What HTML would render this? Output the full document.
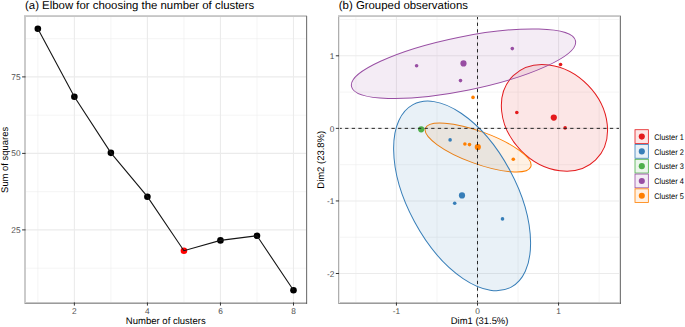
<!DOCTYPE html>
<html><head><meta charset="utf-8"><style>html,body{margin:0;padding:0;background:#fff;overflow:hidden}svg{display:block}</style></head>
<body><svg width="685" height="327" viewBox="0 0 685 327" text-rendering="geometricPrecision"><line x1="37.85" y1="16.0" x2="37.85" y2="303.0" stroke="#EBEBEB" stroke-width="0.55"/>
<line x1="110.89" y1="16.0" x2="110.89" y2="303.0" stroke="#EBEBEB" stroke-width="0.55"/>
<line x1="183.93" y1="16.0" x2="183.93" y2="303.0" stroke="#EBEBEB" stroke-width="0.55"/>
<line x1="256.97" y1="16.0" x2="256.97" y2="303.0" stroke="#EBEBEB" stroke-width="0.55"/>
<line x1="25.0" y1="268.15" x2="306.5" y2="268.15" stroke="#EBEBEB" stroke-width="0.55"/>
<line x1="25.0" y1="191.65" x2="306.5" y2="191.65" stroke="#EBEBEB" stroke-width="0.55"/>
<line x1="25.0" y1="115.15" x2="306.5" y2="115.15" stroke="#EBEBEB" stroke-width="0.55"/>
<line x1="25.0" y1="38.65" x2="306.5" y2="38.65" stroke="#EBEBEB" stroke-width="0.55"/>
<line x1="74.37" y1="16.0" x2="74.37" y2="303.0" stroke="#EBEBEB" stroke-width="1.1"/>
<line x1="147.41" y1="16.0" x2="147.41" y2="303.0" stroke="#EBEBEB" stroke-width="1.1"/>
<line x1="220.45" y1="16.0" x2="220.45" y2="303.0" stroke="#EBEBEB" stroke-width="1.1"/>
<line x1="293.49" y1="16.0" x2="293.49" y2="303.0" stroke="#EBEBEB" stroke-width="1.1"/>
<line x1="25.0" y1="229.90" x2="306.5" y2="229.90" stroke="#EBEBEB" stroke-width="1.1"/>
<line x1="25.0" y1="153.40" x2="306.5" y2="153.40" stroke="#EBEBEB" stroke-width="1.1"/>
<line x1="25.0" y1="76.90" x2="306.5" y2="76.90" stroke="#EBEBEB" stroke-width="1.1"/>
<circle cx="37.85" cy="28.74" r="3.3" fill="#000"/>
<circle cx="74.37" cy="96.7" r="3.3" fill="#000"/>
<circle cx="110.89" cy="152.85" r="3.3" fill="#000"/>
<circle cx="147.41" cy="196.7" r="3.3" fill="#000"/>
<circle cx="183.93" cy="250.7" r="3.3" fill="#FF0000"/>
<circle cx="220.45" cy="240.4" r="3.3" fill="#000"/>
<circle cx="256.97" cy="235.8" r="3.3" fill="#000"/>
<circle cx="293.49" cy="290.3" r="3.3" fill="#000"/>
<polyline fill="none" stroke="#151515" stroke-width="1.1" points="37.85,28.74 74.37,96.7 110.89,152.85 147.41,196.7 183.93,250.7 220.45,240.4 256.97,235.8 293.49,290.3"/>
<rect x="24" y="15" width="2" height="289" fill="#CBCBCB" shape-rendering="crispEdges"/>
<rect x="24" y="15" width="283" height="1" fill="#CECECE" shape-rendering="crispEdges"/>
<rect x="24" y="16" width="283" height="1" fill="#C6C6C6" shape-rendering="crispEdges"/>
<rect x="306" y="16" width="1" height="288" fill="#7A7A7A" shape-rendering="crispEdges"/>
<rect x="307" y="16" width="1" height="288" fill="#E9E9E9" shape-rendering="crispEdges"/>
<rect x="26" y="302" width="281" height="1" fill="#C6C6C6" shape-rendering="crispEdges"/>
<rect x="25" y="303" width="282" height="1" fill="#9B9B9B" shape-rendering="crispEdges"/>
<rect x="306" y="302" width="1" height="2" fill="#6A6A6A" shape-rendering="crispEdges"/>
<line x1="74.37" y1="302.4" x2="74.37" y2="305.6" stroke="#333333" stroke-width="1.0"/>
<text x="74.37" y="313.9" font-family="'Liberation Sans', sans-serif" font-size="8.3" fill="#4D4D4D" text-anchor="middle">2</text>
<line x1="147.41" y1="302.4" x2="147.41" y2="305.6" stroke="#333333" stroke-width="1.0"/>
<text x="147.41" y="313.9" font-family="'Liberation Sans', sans-serif" font-size="8.3" fill="#4D4D4D" text-anchor="middle">4</text>
<line x1="220.45" y1="302.4" x2="220.45" y2="305.6" stroke="#333333" stroke-width="1.0"/>
<text x="220.45" y="313.9" font-family="'Liberation Sans', sans-serif" font-size="8.3" fill="#4D4D4D" text-anchor="middle">6</text>
<line x1="293.49" y1="302.4" x2="293.49" y2="305.6" stroke="#333333" stroke-width="1.0"/>
<text x="293.49" y="313.9" font-family="'Liberation Sans', sans-serif" font-size="8.3" fill="#4D4D4D" text-anchor="middle">8</text>
<line x1="22.1" y1="229.90" x2="25.6" y2="229.90" stroke="#333333" stroke-width="1.0"/>
<text x="20.5" y="232.87" font-family="'Liberation Sans', sans-serif" font-size="8.3" fill="#4D4D4D" text-anchor="end">25</text>
<line x1="22.1" y1="153.40" x2="25.6" y2="153.40" stroke="#333333" stroke-width="1.0"/>
<text x="20.5" y="156.37" font-family="'Liberation Sans', sans-serif" font-size="8.3" fill="#4D4D4D" text-anchor="end">50</text>
<line x1="22.1" y1="76.90" x2="25.6" y2="76.90" stroke="#333333" stroke-width="1.0"/>
<text x="20.5" y="79.87" font-family="'Liberation Sans', sans-serif" font-size="8.3" fill="#4D4D4D" text-anchor="end">75</text>
<text x="165.8" y="323.8" font-family="'Liberation Sans', sans-serif" font-size="9.6" textLength="79.9" lengthAdjust="spacingAndGlyphs" fill="#000" text-anchor="middle">Number of clusters</text>
<text transform="translate(7.7,159.9) rotate(-90)" font-family="'Liberation Sans', sans-serif" font-size="9.6" textLength="66.0" lengthAdjust="spacingAndGlyphs" fill="#000" text-anchor="middle">Sum of squares</text>
<text x="25.0" y="9.05" font-family="'Liberation Sans', sans-serif" font-size="11.4" fill="#000">(a) Elbow for choosing the number of clusters</text>
<line x1="355.89" y1="16.0" x2="355.89" y2="303.0" stroke="#EBEBEB" stroke-width="0.55"/>
<line x1="436.97" y1="16.0" x2="436.97" y2="303.0" stroke="#EBEBEB" stroke-width="0.55"/>
<line x1="518.03" y1="16.0" x2="518.03" y2="303.0" stroke="#EBEBEB" stroke-width="0.55"/>
<line x1="599.11" y1="16.0" x2="599.11" y2="303.0" stroke="#EBEBEB" stroke-width="0.55"/>
<line x1="338.5" y1="19.52" x2="620.5" y2="19.52" stroke="#EBEBEB" stroke-width="0.55"/>
<line x1="338.5" y1="92.09" x2="620.5" y2="92.09" stroke="#EBEBEB" stroke-width="0.55"/>
<line x1="338.5" y1="164.66" x2="620.5" y2="164.66" stroke="#EBEBEB" stroke-width="0.55"/>
<line x1="338.5" y1="237.22" x2="620.5" y2="237.22" stroke="#EBEBEB" stroke-width="0.55"/>
<line x1="396.43" y1="16.0" x2="396.43" y2="303.0" stroke="#EBEBEB" stroke-width="1.1"/>
<line x1="477.50" y1="16.0" x2="477.50" y2="303.0" stroke="#EBEBEB" stroke-width="1.1"/>
<line x1="558.57" y1="16.0" x2="558.57" y2="303.0" stroke="#EBEBEB" stroke-width="1.1"/>
<line x1="338.5" y1="55.80" x2="620.5" y2="55.80" stroke="#EBEBEB" stroke-width="1.1"/>
<line x1="338.5" y1="128.37" x2="620.5" y2="128.37" stroke="#EBEBEB" stroke-width="1.1"/>
<line x1="338.5" y1="200.94" x2="620.5" y2="200.94" stroke="#EBEBEB" stroke-width="1.1"/>
<line x1="338.5" y1="273.51" x2="620.5" y2="273.51" stroke="#EBEBEB" stroke-width="1.1"/>
<ellipse cx="554.45" cy="117.8" rx="58.9" ry="46.8" transform="rotate(45.6 554.45 117.8)" fill="#E41A1C" fill-opacity="0.11" stroke="#E41A1C" stroke-width="1.0"/>
<ellipse cx="463.5" cy="63.7" rx="114.3" ry="26.8" transform="rotate(-11.5 463.5 63.7)" fill="#984EA3" fill-opacity="0.11" stroke="#984EA3" stroke-width="1.0"/>
<ellipse cx="478.1" cy="147.5" rx="56.1" ry="16.1" transform="rotate(20.1 478.1 147.5)" fill="#FF7F00" fill-opacity="0.11" stroke="#FF7F00" stroke-width="1.0"/>
<ellipse cx="462.1" cy="195.9" rx="103.6" ry="54.2" transform="rotate(61.7 462.1 195.9)" fill="#377EB8" fill-opacity="0.11" stroke="#377EB8" stroke-width="1.0"/>
<circle cx="560.55" cy="64.5" r="1.8" fill="#E41A1C"/>
<circle cx="516.8" cy="112.5" r="1.8" fill="#E41A1C"/>
<circle cx="565.1" cy="127.9" r="1.8" fill="#E41A1C"/>
<circle cx="553.8" cy="117.6" r="3.1" fill="#E41A1C"/>
<circle cx="450.1" cy="139.9" r="1.8" fill="#377EB8"/>
<circle cx="454.7" cy="203.2" r="1.8" fill="#377EB8"/>
<circle cx="502.5" cy="218.9" r="1.8" fill="#377EB8"/>
<circle cx="462" cy="195.4" r="3.1" fill="#377EB8"/>
<circle cx="421.2" cy="129.3" r="3.1" fill="#4DAF4A"/>
<circle cx="416.6" cy="65.7" r="1.8" fill="#984EA3"/>
<circle cx="460.5" cy="80.6" r="1.8" fill="#984EA3"/>
<circle cx="512.3" cy="48.6" r="1.8" fill="#984EA3"/>
<circle cx="463.5" cy="63.4" r="3.1" fill="#984EA3"/>
<circle cx="473" cy="97.4" r="1.8" fill="#FF7F00"/>
<circle cx="464.9" cy="144.0" r="1.8" fill="#FF7F00"/>
<circle cx="469.5" cy="144.6" r="1.8" fill="#FF7F00"/>
<circle cx="513.3" cy="159.3" r="1.8" fill="#FF7F00"/>
<circle cx="477.8" cy="147.0" r="3.1" fill="#FF7F00"/>
<line x1="338.5" y1="128.37" x2="620.5" y2="128.37" stroke="#262626" stroke-width="1.0" stroke-dasharray="3.31 3.31"/>
<line x1="477.50" y1="16.0" x2="477.50" y2="303.0" stroke="#262626" stroke-width="1.0" stroke-dasharray="3.31 3.31"/>
<rect x="338" y="15" width="1" height="289" fill="#AEAEAE" shape-rendering="crispEdges"/>
<rect x="339" y="15" width="1" height="289" fill="#E9E9E9" shape-rendering="crispEdges"/>
<rect x="338" y="15" width="283" height="1" fill="#CECECE" shape-rendering="crispEdges"/>
<rect x="338" y="16" width="283" height="1" fill="#C6C6C6" shape-rendering="crispEdges"/>
<rect x="619" y="17" width="1" height="285" fill="#E2E2E2" shape-rendering="crispEdges"/>
<rect x="620" y="16" width="1" height="288" fill="#7A7A7A" shape-rendering="crispEdges"/>
<rect x="340" y="302" width="280" height="1" fill="#C6C6C6" shape-rendering="crispEdges"/>
<rect x="339" y="303" width="282" height="1" fill="#9B9B9B" shape-rendering="crispEdges"/>
<rect x="620" y="302" width="1" height="2" fill="#6A6A6A" shape-rendering="crispEdges"/>
<line x1="396.43" y1="302.4" x2="396.43" y2="305.6" stroke="#333333" stroke-width="1.0"/>
<text x="396.43" y="313.9" font-family="'Liberation Sans', sans-serif" font-size="8.3" fill="#4D4D4D" text-anchor="middle">-1</text>
<line x1="477.50" y1="302.4" x2="477.50" y2="305.6" stroke="#333333" stroke-width="1.0"/>
<text x="477.50" y="313.9" font-family="'Liberation Sans', sans-serif" font-size="8.3" fill="#4D4D4D" text-anchor="middle">0</text>
<line x1="558.57" y1="302.4" x2="558.57" y2="305.6" stroke="#333333" stroke-width="1.0"/>
<text x="558.57" y="313.9" font-family="'Liberation Sans', sans-serif" font-size="8.3" fill="#4D4D4D" text-anchor="middle">1</text>
<line x1="335.8" y1="55.80" x2="339.1" y2="55.80" stroke="#333333" stroke-width="1.0"/>
<text x="334.3" y="59.05" font-family="'Liberation Sans', sans-serif" font-size="8.3" fill="#4D4D4D" text-anchor="end">1</text>
<line x1="335.8" y1="128.37" x2="339.1" y2="128.37" stroke="#333333" stroke-width="1.0"/>
<text x="334.3" y="131.62" font-family="'Liberation Sans', sans-serif" font-size="8.3" fill="#4D4D4D" text-anchor="end">0</text>
<line x1="335.8" y1="200.94" x2="339.1" y2="200.94" stroke="#333333" stroke-width="1.0"/>
<text x="334.3" y="204.19" font-family="'Liberation Sans', sans-serif" font-size="8.3" fill="#4D4D4D" text-anchor="end">-1</text>
<line x1="335.8" y1="273.51" x2="339.1" y2="273.51" stroke="#333333" stroke-width="1.0"/>
<text x="334.3" y="276.76" font-family="'Liberation Sans', sans-serif" font-size="8.3" fill="#4D4D4D" text-anchor="end">-2</text>
<text x="479.6" y="324.4" font-family="'Liberation Sans', sans-serif" font-size="9.6" textLength="57.6" lengthAdjust="spacingAndGlyphs" fill="#000" text-anchor="middle">Dim1 (31.5%)</text>
<text transform="translate(323.5,159.8) rotate(-90)" font-family="'Liberation Sans', sans-serif" font-size="9.6" textLength="57.8" lengthAdjust="spacingAndGlyphs" fill="#000" text-anchor="middle">Dim2 (23.8%)</text>
<text x="338.8" y="9.05" font-family="'Liberation Sans', sans-serif" font-size="11.4" fill="#000">(b) Grouped observations</text>
<rect x="635.0" y="129.72" width="13.35" height="13.75" fill="#E41A1C" fill-opacity="0.11" stroke="#E41A1C" stroke-width="0.8"/>
<circle cx="641.8" cy="136.60" r="3.05" fill="#E41A1C"/>
<text x="654.2" y="139.90" font-family="'Liberation Sans', sans-serif" font-size="8.2" fill="#000" textLength="29.6" lengthAdjust="spacingAndGlyphs">Cluster 1</text>
<rect x="635.0" y="144.50" width="13.35" height="13.75" fill="#377EB8" fill-opacity="0.11" stroke="#377EB8" stroke-width="0.8"/>
<circle cx="641.8" cy="151.38" r="3.05" fill="#377EB8"/>
<text x="654.2" y="154.68" font-family="'Liberation Sans', sans-serif" font-size="8.2" fill="#000" textLength="29.6" lengthAdjust="spacingAndGlyphs">Cluster 2</text>
<rect x="635.0" y="159.28" width="13.35" height="13.75" fill="#4DAF4A" fill-opacity="0.11" stroke="#4DAF4A" stroke-width="0.8"/>
<circle cx="641.8" cy="166.16" r="3.05" fill="#4DAF4A"/>
<text x="654.2" y="169.46" font-family="'Liberation Sans', sans-serif" font-size="8.2" fill="#000" textLength="29.6" lengthAdjust="spacingAndGlyphs">Cluster 3</text>
<rect x="635.0" y="174.06" width="13.35" height="13.75" fill="#984EA3" fill-opacity="0.11" stroke="#984EA3" stroke-width="0.8"/>
<circle cx="641.8" cy="180.94" r="3.05" fill="#984EA3"/>
<text x="654.2" y="184.24" font-family="'Liberation Sans', sans-serif" font-size="8.2" fill="#000" textLength="29.6" lengthAdjust="spacingAndGlyphs">Cluster 4</text>
<rect x="635.0" y="188.84" width="13.35" height="13.75" fill="#FF7F00" fill-opacity="0.11" stroke="#FF7F00" stroke-width="0.8"/>
<circle cx="641.8" cy="195.72" r="3.05" fill="#FF7F00"/>
<text x="654.2" y="199.02" font-family="'Liberation Sans', sans-serif" font-size="8.2" fill="#000" textLength="29.6" lengthAdjust="spacingAndGlyphs">Cluster 5</text></svg></body></html>
